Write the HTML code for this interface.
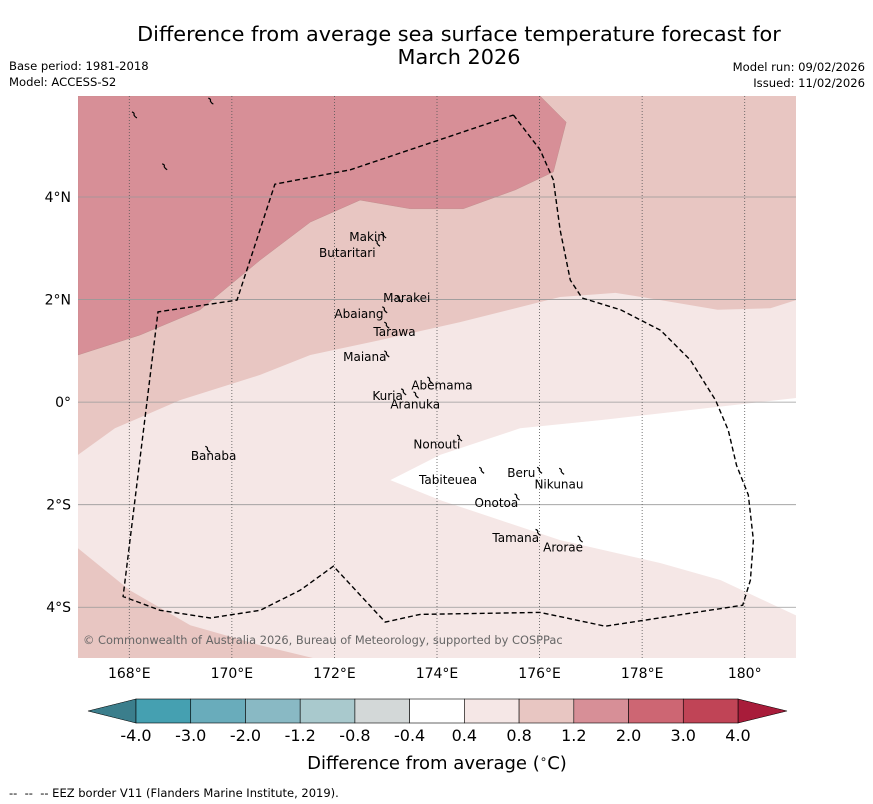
<!DOCTYPE html>
<html><head><meta charset="utf-8">
<style>
body{margin:0;background:#fff;font-family:"Liberation Sans","DejaVu Sans",sans-serif;}
svg{display:block}
</style></head>
<body>
<svg id="chart" width="873" height="804" viewBox="0 0 873 804" font-family="DejaVu Sans, Liberation Sans, sans-serif">
<text x="459" y="41" font-size="20.8" text-anchor="middle">Difference from average sea surface temperature forecast for</text>
<text x="459" y="64" font-size="20.8" text-anchor="middle">March 2026</text>
<text x="9" y="70" font-size="11.6">Base period: 1981-2018</text>
<text x="9" y="86" font-size="11.6">Model: ACCESS-S2</text>
<text x="865" y="71" font-size="11.6" text-anchor="end">Model run: 09/02/2026</text>
<text x="865" y="87" font-size="11.6" text-anchor="end">Issued: 11/02/2026</text>
<defs><clipPath id="mapclip"><rect x="78" y="96" width="718" height="562"/></clipPath></defs>
<g id="map" clip-path="url(#mapclip)"></g>
<g id="axes"></g>
<g id="cbar"></g>
<text x="437" y="769" font-size="18" text-anchor="middle">Difference from average (<tspan font-size="12" dy="-6">∘</tspan><tspan dy="6">C)</tspan></text>
<text x="9" y="797" font-size="11.5">-- &nbsp;-- &nbsp;-- EEZ border V11 (Flanders Marine Institute, 2019).</text>
</svg>
<script>
const lonMin=167, lonMax=181, latMax=5.97, latMin=-4.99;
const lonTicks=[168,170,172,174,176,178,180];
const lonTickLabels=["168°E","170°E","172°E","174°E","176°E","178°E","180°"];
const latTicks=[4,2,0,-2,-4];
const latTickLabels=["4°N","2°N","0°","2°S","4°S"];
const darkRegion=[[167,5.97],[176.01,5.97],[176.52,5.46],[176.27,4.49],[175.53,4.14],[174.51,3.77],[173.48,3.77],[172.5,3.94],[171.53,3.51],[170.55,2.77],[169.38,1.8],[168.21,1.31],[167,0.92]];
const midRegion=[[167,5.97],[181,5.97],[181,1.99],[180.5,1.83],[179.47,1.8],[178.36,1.99],[177.48,2.13],[176.4,2.05],[174.45,1.56],[172.89,1.21],[171.53,0.92],[170.55,0.53],[168.99,0.04],[167.72,-0.51],[167,-1.03]];
const lowerLeftRegion=[[167,-2.85],[168.01,-3.67],[169.19,-4.35],[170.55,-4.74],[171.62,-5.0],[167,-5.0]];
const neutralRegion=[[173.09,-1.52],[174.06,-1.03],[175.62,-0.51],[177.19,-0.35],[181,0.08],[181,-4.16],[179.53,-3.47],[178.36,-3.14],[176.4,-2.69],[175.23,-2.3],[174.06,-1.91]];
const eezBorder=[[175.49,5.6],[176.01,4.92],[176.27,4.33],[176.4,3.36],[176.6,2.38],[176.83,2.03],[177.58,1.8],[178.36,1.4],[178.94,0.82],[179.43,0.04],[179.68,-0.55],[179.84,-1.23],[180.07,-1.81],[180.17,-2.69],[180.11,-3.47],[179.96,-3.96],[177.28,-4.37],[176.01,-4.1],[173.67,-4.14],[172.99,-4.29],[171.98,-3.2],[171.33,-3.67],[170.55,-4.06],[169.58,-4.21],[168.6,-4.06],[167.88,-3.79],[168.56,1.76],[170.1,1.99],[170.84,4.25],[172.31,4.53],[175.49,5.6]];
const islandNames=["Makin","Butaritari","Marakei","Abaiang","Tarawa","Maiana","Abemama","Kuria","Aranuka","Nonouti","Banaba","Beru","Tabiteuea","Nikunau","Onotoa","Tamana","Arorae"];
const islandLabelLon=[172.29,171.7,172.95,172,172.76,172.17,173.5,172.74,173.09,173.54,169.2,175.37,173.65,175.9,174.73,175.08,176.07];
const islandLabelLat=[3.14,2.83,1.95,1.64,1.29,0.8,0.25,0.04,-0.12,-0.9,-1.13,-1.46,-1.6,-1.68,-2.05,-2.73,-2.91];
const islandMarkLon=[172.97,172.85,173.28,172.99,173.03,173.03,173.87,173.36,173.6,174.45,174.88,176.01,176.44,175.57,175.98,176.8,169.54,168.11,168.7,169.6];
const islandMarkLat=[3.26,3.1,2.01,1.8,1.5,0.94,0.43,0.2,0.14,-0.7,-1.33,-1.33,-1.35,-1.85,-2.54,-2.67,-0.92,5.6,4.59,5.87];
const cbarBounds=["-4.0","-3.0","-2.0","-1.2","-0.8","-0.4","0.4","0.8","1.2","2.0","3.0","4.0"];
const cbarColors=["#45a0b1","#69acbb","#89b9c4","#a9c9cd","#d3d8d8","#ffffff","#f5e7e6","#e8c6c2","#d78f97","#cd6673","#c04456"];

const X0=78,X1=796,Y0=96,Y1=658;
const xs=lon=>X0+(lon-lonMin)/(lonMax-lonMin)*(X1-X0);
const ys=lat=>Y0+(latMax-lat)/(latMax-latMin)*(Y1-Y0);
const NS="http://www.w3.org/2000/svg";
function mk(tag,attrs,parent){const e=document.createElementNS(NS,tag);for(const k in attrs)e.setAttribute(k,attrs[k]);parent.appendChild(e);return e;}
const pts=a=>a.map(p=>xs(p[0]).toFixed(1)+","+ys(p[1]).toFixed(1)).join(" ");
const map=document.getElementById("map"),axes=document.getElementById("axes"),cbar=document.getElementById("cbar");

let bg=mk("rect",{x:X0,y:Y0,width:X1-X0,height:Y1-Y0,fill:"#f5e7e6"},map);


let r1=mk("polygon",{points:pts(midRegion),fill:"#e8c6c2"},map);


let r2=mk("polygon",{points:pts(lowerLeftRegion),fill:"#e8c6c2"},map);


let r3=mk("polygon",{points:pts(darkRegion),fill:"#d78f97",stroke:"#b88","stroke-width":0.4},map);


let r4=mk("polygon",{points:pts(neutralRegion),fill:"#ffffff"},map);



latTicks.forEach((t,i)=>{
  let l=mk("line",{x1:X0,x2:X1,y1:ys(t),y2:ys(t),stroke:"#999","stroke-width":0.8},map);
  
  
  let tx=mk("text",{x:71,y:ys(t)+5,"font-size":14,"text-anchor":"end"},axes);
  tx.textContent=latTickLabels[i];
  
  
});
lonTicks.forEach((t,i)=>{
  let l=mk("line",{x1:xs(t),x2:xs(t),y1:Y0,y2:Y1,stroke:"#555","stroke-width":0.8,"stroke-dasharray":"1,2"},map);
  
  
  let tx=mk("text",{x:xs(t),y:678,"font-size":14,"text-anchor":"middle"},axes);
  tx.textContent=lonTickLabels[i];
  
  
});
let eez=mk("polyline",{points:pts(eezBorder),fill:"none",stroke:"#000","stroke-width":1.4,"stroke-dasharray":"5,3"},map);


islandMarkLon.forEach((lo,i)=>{
  const x=xs(lo),y=ys(islandMarkLat[i]);
  let p=mk("path",{d:`M${x-3},${y-3} q3,1 2,3 q1,2 3,3`,fill:"none",stroke:"#000","stroke-width":1.2},map);
  
  
});
islandNames.forEach((n,i)=>{
  let t=mk("text",{x:xs(islandLabelLon[i]),y:ys(islandLabelLat[i]),"font-size":12},map);
  t.textContent=n;
  
  
});
let cp=mk("text",{x:83,y:644,"font-size":11.4,fill:"#666"},map);
cp.textContent="© Commonwealth of Australia 2026, Bureau of Meteorology, supported by COSPPac";



const CB0=136,CB1=738,CBY=699,CBH=24,n=cbarColors.length,bw=(CB1-CB0)/n;
let lt=mk("polygon",{points:`${CB0},${CBY} ${CB0},${CBY+CBH} 88,${CBY+CBH/2}`,fill:"#3b7e8c",stroke:"#000","stroke-width":0.6},cbar);


let rt=mk("polygon",{points:`${CB1},${CBY} ${CB1},${CBY+CBH} 787,${CBY+CBH/2}`,fill:"#a81c3a",stroke:"#000","stroke-width":0.6},cbar);


cbarColors.forEach((c,i)=>{
  let r=mk("rect",{x:CB0+i*bw,y:CBY,width:bw,height:CBH,fill:c,stroke:"#000","stroke-width":0.6},cbar);
  
  
});
cbarBounds.forEach((b,i)=>{
  let t=mk("text",{x:CB0+i*bw,y:741,"font-size":16,"text-anchor":"middle"},cbar);
  t.textContent=b;
  
  
});
</script>
</body></html>
